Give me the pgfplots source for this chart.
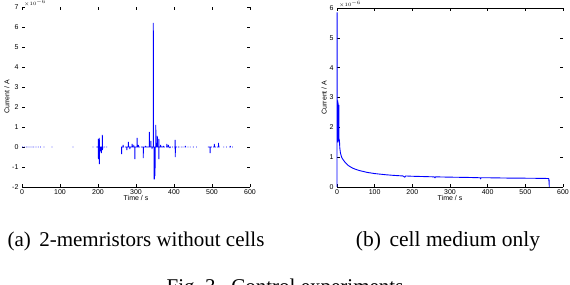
\documentclass[border=0pt]{standalone}
\usepackage{fontspec}
\setmainfont{Liberation Serif}
\setsansfont{Liberation Sans}
\usepackage{pgfplots}
\pgfplotsset{compat=1.18}
\definecolor{mblue}{RGB}{0,0,255}
\pgfplotsset{
  mstyle/.style={
    scale only axis,
    anchor=south west,
    xmin=0, xmax=600,
    xtick={0,100,...,600},
    clip=false,
    axis line style={draw=none},
    tick style={black, line width=0.4pt},
    major tick length=3pt,
    tick align=inside,
    /pgf/number format/assume math mode=true,
    tick label style={font=\sffamily\fontsize{7}{8}\selectfont},
    label style={font=\sffamily\fontsize{7}{8}\selectfont},
    xlabel={Time / s},
    ylabel={Current / A},
    xticklabel style={yshift=1pt},
    xlabel style={yshift=6pt},
    ylabel style={yshift=-4pt},
    unbounded coords=jump,
  }
}
\begin{document}
\begin{tikzpicture}[x=1pt,y=1pt]
\path[use as bounding box] (0,0) rectangle (570,284);
% left plot
\begin{axis}[mstyle, at={(22pt,97pt)}, width=228pt, height=180pt,
  ymin=-2, ymax=7, ytick={-2,-1,...,7}]
\draw[black, line width=0.8pt] (rel axis cs:0,0) -- (rel axis cs:1,0);
\addplot[mblue, line width=0.9pt] coordinates {
(0,0)(2,0) (nan,nan) (5,0)(7,0) (nan,nan) (10,0)(12,0) (nan,nan) (15,0)(17,0) (nan,nan)
(20,0)(22,0) (nan,nan) (25,0)(27,0) (nan,nan) (30,0)(32,0) (nan,nan) (36,0)(38,0) (nan,nan)
(42,0)(44,0) (nan,nan) (48,0)(50,0) (nan,nan) (57,0)(59,0) (nan,nan) (78,0)(80,0) (nan,nan)
(133,0)(135,0) (nan,nan) (186,0)(188,0) (nan,nan)
(196,0)(200.8,0)(200.8,0.4)(201.2,-0.6)(201.6,0)(203.4,0)(203.4,0.45)(203.8,-0.85)(204.2,0)
(207,0)(207,-0.2)(207.5,0)(209,0)(209,-0.3)(209.5,0)(211.3,0)(211.3,0.6)(211.8,-0.15)(212.3,0)(214,0)
(nan,nan) (217,0)(219,0) (nan,nan) (222,0)(224,0) (nan,nan)
(261,0)(262,0)(262,-0.35)(262.5,0)(266,0)(266,0.1)(266.5,0)(268,0)
(nan,nan) (271,0)(276,0)(276,-0.15)(276.5,0)(280,0)(280,0.25)(280.5,0)(284,0)(284,-0.1)(284.5,0)
(290,0)(290,0.15)(290.5,0)(294,0)(294,0.1)(294.5,0)(297,0)(297,-0.6)(297.5,0)(303,0)(303,0.45)(303.5,0)
(306,0)(306,0.1)(306.5,0)(310,0)(nan,nan)(313,0)(319,0)(319,-0.55)(319.5,0)(325,0)(325,0.05)(325.5,0)(330,0)
(335,0)(335,0.75)(335.5,0)(339,0)(339,0.3)(339.5,0)(342,0)(342,-0.1)(342.5,0)
(345.5,0)(345.5,6.2)(346,0)(347.5,0)(347.5,-1.6)(348.5,-1.6)(349,0)(350,0)(350,-1.45)(350.5,0)
(352,0)(352,1.1)(352.5,0)(354,0)(354,0.2)(354.5,0)(356,0)(356,0.55)(356.5,0)(360,0)(360,0.4)(360.3,-0.6)(360.6,0)
(365,0)(365,0.1)(365.5,0)(370,0)(372,0)(372,0.05)(372.5,0)(376,0)(nan,nan)(379,0)(381,0)(381,0.15)(381.5,0)(385,0)(385,0.1)(385.5,0)(389,0)(389,-0.05)(389.5,0)(392,0)
(nan,nan) (395,0)(397,0) (nan,nan) (401,0)(403,0)(403,0.35)(403.3,-0.5)(403.6,0)(408,0)
(nan,nan) (411,0)(414,0) (nan,nan) (418,0)(420,0) (nan,nan) (423,0)(425,0) (nan,nan) (428,0)(430,0)(430,0.05)(430.5,0)(432,0) (nan,nan)
(436,0)(438,0) (nan,nan) (442,0)(444,0) (nan,nan) (450,0)(452,0) (nan,nan) (458,0)(460,0) (nan,nan)
(489,0)(495,0)(495,-0.3)(495.5,0)(500,0) (nan,nan) (503,0)(506,0)(506,0.15)(506.5,0)(510,0) (nan,nan)
(513,0)(517,0)(517,0.2)(517.5,0)(520,0) (nan,nan) (530,0)(532,0) (nan,nan) (537,0)(539,0) (nan,nan)
(546,0)(548,0)(548,0.05)(548.5,0)(550,0) (nan,nan) (553,0)(555,0)
};
\node[font=\sffamily\fontsize{5}{6}\selectfont, anchor=south west, inner sep=0pt] at ([xshift=2pt,yshift=0.5pt]rel axis cs:0,1) {$\times10^{-6}$};
\end{axis}
% right plot
\begin{axis}[mstyle, at={(337pt,97pt)}, width=226pt, height=179pt,
  ymin=0, ymax=6, ytick={0,1,...,6}]
\draw[black, line width=0.8pt] (rel axis cs:0,0) -- (rel axis cs:1,0);
\draw[black, line width=0.8pt] (rel axis cs:0,1) -- (rel axis cs:1,1);
\addplot[mblue, line width=0.9pt] coordinates {
(0,0)(0.2,5.85)(0.5,1.5)(0.9,2.9)(1.3,1.5)(1.7,2.9)(2.1,1.5)(2.5,2.85)(2.9,1.5)(3.3,2.8)(3.7,1.55)
(4.1,2.75)(4.5,1.55)(4.9,2.75)(5.3,1.6)(5.7,1.6)(6.5,1.55)(7.5,1.3)(9,1.15)(11,1.05)(13,0.98)
(16,0.92)(20,0.85)(25,0.78)(30,0.72)(35,0.68)(42,0.63)(50,0.59)(60,0.55)(70,0.52)(80,0.49)(90,0.47)
(100,0.45)(115,0.43)(130,0.41)(150,0.39)(175,0.37)(180,0.33)(182,0.37)(200,0.36)(230,0.35)(258,0.34)(260,0.31)(262,0.34)
(300,0.33)(350,0.32)(380,0.31)(381,0.28)(383,0.31)(400,0.31)(450,0.30)(500,0.295)(540,0.29)(562,0.285)(562.5,0.2)(563,0.25)(563.5,0)
};
\node[font=\sffamily\fontsize{5}{6}\selectfont, anchor=south west, inner sep=0pt] at ([xshift=2pt,yshift=0.5pt]rel axis cs:0,1) {$\times10^{-6}$};
\end{axis}
\node[anchor=base, font=\fontsize{21}{24}\selectfont] at (136,38) {(a)\hspace{0.4em}2-memristors without cells};
\node[anchor=base, font=\fontsize{21.5}{24}\selectfont] at (448,38) {(b)\hspace{0.4em}cell medium only};
\node[anchor=base, font=\fontsize{21}{24}\selectfont] at (285,-9) {Fig.~3.\hspace{0.5em}Control experiments};
\end{tikzpicture}
\end{document}
